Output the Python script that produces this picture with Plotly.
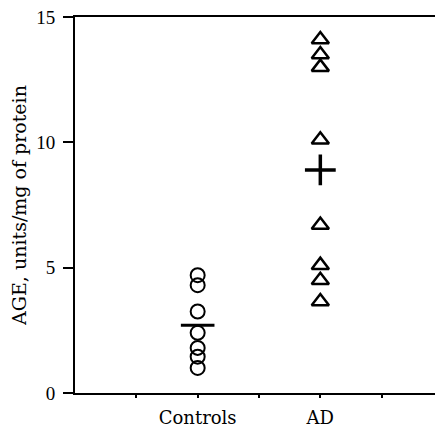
import plotly.graph_objects as go

# ---- data ----
categories = ["Controls", "AD"]
category_x = [2, 4]
controls_values = [4.7, 4.3, 3.25, 2.4, 1.8, 1.45, 1.0]
ad_values = [14.1, 13.5, 13.0, 10.1, 6.7, 5.1, 4.5, 3.65]
group_means = [2.7, 8.9]
x_tick_vals = [1, 2, 3, 4, 5]
x_tick_text = ["", "Controls", "", "AD", ""]
y_tick_vals = [0, 5, 10, 15]
y_title = "AGE, units/mg of protein"

fig = go.Figure()

fig.add_trace(go.Scatter(
    x=[category_x[0]] * len(controls_values), y=controls_values,
    mode="markers",
    marker=dict(symbol="circle-open", size=14, color="black",
                line=dict(width=2, color="black")),
    showlegend=False, hoverinfo="y"))

fig.add_trace(go.Scatter(
    x=[category_x[1]] * len(ad_values), y=ad_values,
    mode="markers",
    marker=dict(symbol="triangle-up-open", size=15, color="black",
                line=dict(width=2.5, color="black")),
    showlegend=False, hoverinfo="y"))

fig.add_trace(go.Scatter(
    x=[category_x[0]], y=[group_means[0]],
    mode="markers",
    marker=dict(symbol="line-ew", size=24, color="black",
                line=dict(width=3, color="black")),
    showlegend=False, hoverinfo="y"))

fig.add_trace(go.Scatter(
    x=[category_x[1]], y=[group_means[1]],
    mode="markers",
    marker=dict(symbol="cross-thin", size=22, color="black",
                line=dict(width=3.5, color="black")),
    showlegend=False, hoverinfo="y"))

# the page body adds an 8px offset, so the figure is 8px smaller each way
fig.update_layout(
    width=435, height=418,
    margin=dict(l=67, r=0, t=9, b=33, autoexpand=False),
    paper_bgcolor="white", plot_bgcolor="white",
    font=dict(family="DejaVu Serif", color="black"),
)

fig.update_xaxes(
    range=[0, 6],
    tickmode="array", tickvals=x_tick_vals, ticktext=x_tick_text,
    ticks="outside", ticklen=3, tickwidth=1.5, tickcolor="black",
    tickfont=dict(family="DejaVu Serif", size=18, color="black"),
    ticklabelstandoff=4, ticklabeloverflow="allow",
    showline=True, linewidth=2, linecolor="black", mirror=True,
    showgrid=False, zeroline=False, automargin=False,
)

fig.update_yaxes(
    range=[0, 15],
    tickmode="array", tickvals=y_tick_vals,
    ticks="outside", ticklen=10, tickwidth=2, tickcolor="black",
    tickfont=dict(family="Liberation Serif", size=19, color="black"),
    ticklabelstandoff=4, ticklabeloverflow="allow",
    showline=True, linewidth=2, linecolor="black",
    showgrid=False, zeroline=False, automargin=False,
    title=dict(text=y_title, standoff=8,
               font=dict(family="DejaVu Serif", size=19, color="black")),
)

fig.write_html("out.html")
